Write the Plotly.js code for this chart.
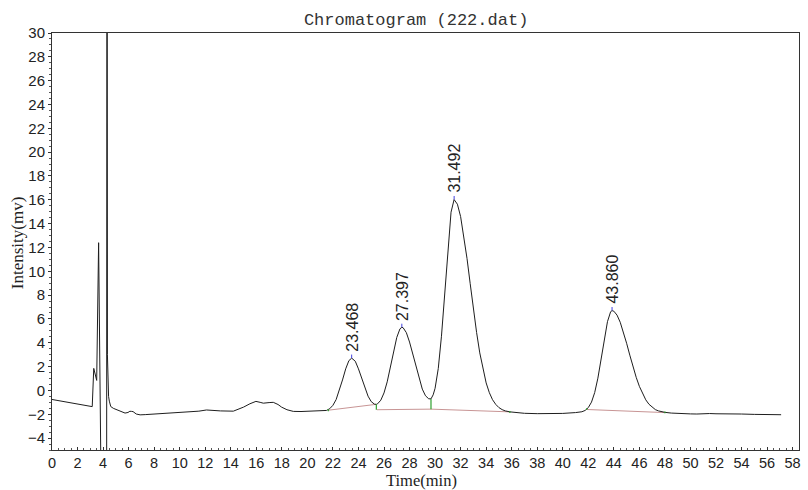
<!DOCTYPE html>
<html><head><meta charset="utf-8">
<script src="https://cdn.plot.ly/plotly-3.0.1.min.js"></script>
<style>html,body{margin:0;padding:0;background:#fff}</style>
</head><body><div id="chart" style="width:808px;height:490px"></div>
<script>
// Retention time (min) and detector signal (mV)
const time = [0, 0.5, 1.0, 1.5, 2.0, 2.5, 3.0, 3.15, 3.27, 3.5, 3.65, 3.70, 3.95, 4.05, 4.27, 4.29, 4.31, 4.34, 4.38, 4.43, 4.49, 4.6, 4.8, 5.07, 5.4, 5.72, 5.95, 6.1, 6.24, 6.35, 6.6, 6.9, 7.3, 8.2, 9.0, 10.28, 11.0, 11.5, 12.1, 12.6, 13.2, 14.2, 14.6, 15.0, 15.5, 15.97, 16.3, 16.55, 17.0, 17.33, 17.7, 17.98, 18.4, 18.9, 19.5, 20.46, 21.0,
  21.5, 21.75, 22.0, 22.25, 22.5, 22.75, 23.0, 23.25, 23.47, 23.75, 24.0, 24.25, 24.5, 24.75, 25.0, 25.25, 25.4, 25.5,
  25.75, 26.0, 26.25, 26.5, 26.75, 27.0, 27.25, 27.4, 27.5, 27.75, 28.0, 28.25, 28.5, 28.75, 29.0, 29.25, 29.5, 29.68, 29.85,
  30.0, 30.25, 30.5, 30.75, 31.0, 31.25, 31.49, 31.75, 32.0, 32.25, 32.5, 32.75, 33.0, 33.25, 33.5, 33.75, 34.0, 34.25, 34.5, 34.75, 35.0, 35.25, 35.5, 35.86,
  36.5, 37.0, 38.0, 39.0, 40.0, 41.0, 41.5, 41.75, 42.0, 42.25, 42.5, 42.75, 43.0, 43.25, 43.5, 43.75, 43.86, 44.0, 44.25, 44.5, 44.75, 45.0, 45.25, 45.5, 45.75, 46.0, 46.25, 46.5, 46.75, 47.0, 47.25, 47.5, 47.75, 48.0,
  48.5, 49.0, 49.5, 50.0, 50.5, 51.0, 51.5, 52.0, 52.5, 53.0, 53.5, 54.0, 55.0, 56.0, 57.1];
const signal = [-0.76, -0.85, -0.95, -1.05, -1.14, -1.23, -1.32, -1.36, 1.85, 0.84, 12.4, 9.2, -6, -30, -30, 60, 60, 3.0, 1.0, -0.5, -0.9, -1.35, -1.5, -1.62, -1.72, -1.9, -1.85, -1.75, -1.76, -1.78, -1.98, -2.05, -2.03, -1.96, -1.92, -1.84, -1.80, -1.74, -1.64, -1.68, -1.72, -1.74, -1.6, -1.4, -1.12, -0.92, -1.0, -1.07, -1.02, -1.0, -1.18, -1.4, -1.62, -1.76, -1.77, -1.74, -1.74,
  -1.68, -1.53, -1.25, -0.77, -0.03, 0.88, 1.81, 2.50, 2.71, 2.45, 1.81, 1.00, 0.19, -0.48, -0.94, -1.15, -1.17, -1.12,
  -0.82, -0.21, 0.72, 1.94, 3.28, 4.45, 5.17, 5.30, 5.26, 4.85, 4.06, 3.03, 1.94, 0.93, 0.11, -0.45, -0.70, -0.71, -0.37,
  0.18, 1.84, 4.55, 8.17, 12.00, 14.96, 16.02, 15.63, 14.59, 13.02, 11.08, 8.96, 6.84, 4.87, 3.15, 1.73, 0.63, -0.19, -0.78, -1.17, -1.44, -1.61, -1.72, -1.80,
  -1.88, -1.92, -1.95, -1.95, -1.93, -1.86, -1.79, -1.68, -1.44, -0.98, -0.18, 1.03, 2.60, 4.30, 5.77, 6.61, 6.70, 6.65, 6.32, 5.72, 4.90, 3.96, 2.96, 2.00, 1.10, 0.34, -0.30, -0.79, -1.16, -1.42, -1.61, -1.72, -1.79, -1.84,
  -1.90, -1.94, -1.95, -1.97, -1.98, -1.95, -1.94, -1.96, -1.96, -1.93, -1.95, -1.98, -2.01, -2.03, -2.04];

// Integration baselines (drawn segments)
const baseTime  = [21.64, 25.37, null, 25.45, 29.68, 35.86, null, 41.87, 48.0];
const baseValue = [-1.66, -1.17, null, -1.62, -1.57, -1.80, null, -1.60, -1.86];

// Peak start / end markers
const markTime  = [21.64, 21.64, null, 25.4, 25.4, null, 29.68, 29.68, null, 35.86, 35.86, null, 41.87, 41.87, null, 48.0, 48.0];
const markValue = [-1.55, -1.75, null, -1.17, -1.62, null, -0.71, -1.57, null, -1.72, -1.90, null, -1.50, -1.65, null, -1.77, -1.92];

// Peaks
const peakTimes   = [23.468, 27.397, 31.492, 43.860];
const peakHeights = [2.71, 5.30, 16.02, 6.70];
const peakLabels  = ['23.468', '27.397', '31.492', '43.860'];
const apexTickLen = 0.3;

const xTitle = 'Time(min)';
const yTitle = 'Intensity(mv)';
const chartTitle = 'Chromatogram (222.dat)';

const apexX = [], apexY = [];
peakTimes.forEach((t, i) => { apexX.push(t, t, null); apexY.push(peakHeights[i], peakHeights[i] + apexTickLen, null); });

const traces = [
  {x: baseTime, y: baseValue, type: 'scatter', mode: 'lines', line: {color: '#c89595', width: 1}, hoverinfo: 'skip'},
  {x: time, y: signal, type: 'scatter', mode: 'lines', line: {color: '#1e1e1e', width: 1}, name: 'signal'},
  {x: markTime, y: markValue, type: 'scatter', mode: 'lines', line: {color: '#2ea02e', width: 1.2}, hoverinfo: 'skip'},
  {x: apexX, y: apexY, type: 'scatter', mode: 'lines', line: {color: '#4040e0', width: 1}, hoverinfo: 'skip'}
];

const tickFont = {family: 'Liberation Sans, Arial, sans-serif', size: 14.5, color: '#222'};
const titleFont = {family: 'Liberation Serif, Times New Roman, serif', size: 16.5, color: '#222'};
const annotations = peakTimes.map((t, i) => ({
  x: t, y: peakHeights[i] + apexTickLen, xref: 'x', yref: 'y', text: peakLabels[i],
  showarrow: false, textangle: -90, xanchor: 'center', yanchor: 'bottom', yshift: 1,
  font: {family: 'Liberation Sans, Arial, sans-serif', size: 16, color: '#222'}
}));
annotations.push({text: xTitle, xref: 'paper', yref: 'paper', x: 0.495, y: -0.0975, xanchor: 'center', yanchor: 'bottom', borderpad: 0, showarrow: false, font: titleFont});
annotations.push({text: yTitle, xref: 'paper', yref: 'paper', x: -0.047, y: 0.498, xanchor: 'center', yanchor: 'middle', textangle: -90, showarrow: false, font: {family: titleFont.family, size: 17, color: '#222'}});

const layout = {
  width: 808, height: 490,
  margin: {l: 52, r: 9, t: 33, b: 40},
  paper_bgcolor: '#fff', plot_bgcolor: '#fff',
  showlegend: false,
  title: {text: chartTitle, font: {family: 'Liberation Mono, monospace', size: 17, color: '#333'},
          x: 0.515, xanchor: 'center', y: 1 - 19/490, yanchor: 'middle'},
  xaxis: {range: [0, 58.5], tick0: 0, dtick: 2, ticks: 'inside', ticklen: 3, tickcolor: '#333',
          showline: true, linecolor: '#333', linewidth: 1, mirror: true, showgrid: false, zeroline: false,
          tickfont: tickFont,
          minor: {dtick: 0.5, ticks: 'inside', ticklen: 2, tickcolor: '#555', showgrid: false}},
  yaxis: {range: [-5, 30], tick0: 0, dtick: 2, ticks: 'outside', ticklen: 3, tickcolor: '#333',
          showline: true, linecolor: '#333', linewidth: 1, mirror: true, showgrid: false, zeroline: false,
          tickfont: {family: tickFont.family, size: 15, color: '#222'},
          minor: {dtick: 0.5, ticks: 'outside', ticklen: 2, tickcolor: '#555', showgrid: false}},
  annotations: annotations
};

Plotly.newPlot('chart', traces, layout, {displayModeBar: false, staticPlot: true});
</script>
</body></html>
